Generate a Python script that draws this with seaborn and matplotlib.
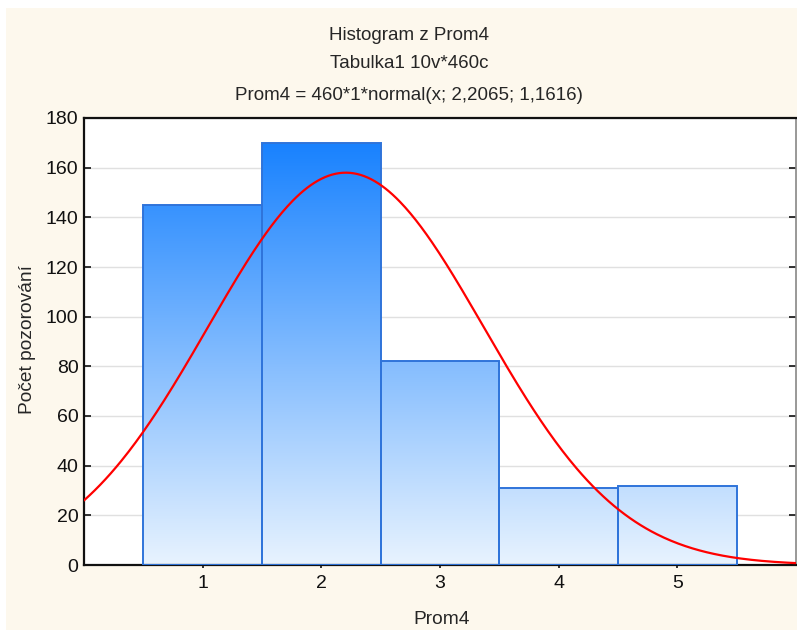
import numpy as np
import pandas as pd
import seaborn as sns
from matplotlib import pyplot as plt
from matplotlib.colors import LinearSegmentedColormap
from matplotlib.patches import Rectangle

# data
categories = [1, 2, 3, 4, 5]
counts = [145, 170, 82, 31, 32]
y_ticks = [0, 20, 40, 60, 80, 100, 120, 140, 160, 180]

# fitted normal curve parameters (from the chart title)
n_total = 460
mean_fit = 2.2065
sd_fit = 1.1616

sns.set_theme(style="white")
plt.rcParams['font.family'] = ['Liberation Sans', 'DejaVu Sans']

fig = plt.figure(figsize=(7.97, 6.3), dpi=100, facecolor='white')
fig.patches.append(Rectangle((6 / 797, 0), 1, (630 - 8) / 630, transform=fig.transFigure,
                             facecolor='#fdf8ed', edgecolor='none', zorder=-10))
ax = fig.add_axes([84 / 797, 65 / 630, 712 / 797, 447 / 630])
ax.set_facecolor('white')

df = pd.DataFrame({'Prom4': categories, 'n': counts})
sns.histplot(data=df, x='Prom4', weights='n', discrete=True, ax=ax,
             color='#7fb8fa', edgecolor='#2f74da', linewidth=1.4, alpha=1, zorder=2)

# vertical gradient fill in every bar
cmap = LinearSegmentedColormap.from_list('stat', ['#e8f3fe', '#0c7bff'])
grad = np.linspace(0, 1, 256).reshape(-1, 1)
for p in ax.patches:
    p.set_facecolor('none')
    p.set_zorder(3)
    im = ax.imshow(grad, extent=[0, 6, 0, 180], origin='lower', aspect='auto',
                   cmap=cmap, zorder=2)
    im.set_clip_path(p)

# normal curve
xs = np.linspace(0, 6, 400)
ys = n_total * 1 * np.exp(-0.5 * ((xs - mean_fit) / sd_fit) ** 2) / (sd_fit * np.sqrt(2 * np.pi))
sns.lineplot(x=xs, y=ys, ax=ax, color='#ff0000', linewidth=1.6, zorder=5)

ax.set_xlim(0, 6)
ax.set_ylim(0, 180)
ax.set_xticks(categories)
ax.set_yticks(y_ticks)
ax.yaxis.grid(True, color='#e0e0e0', linewidth=1, zorder=0)
ax.set_axisbelow(True)
ax.tick_params(axis='both', labelsize=14, colors='#111111', length=5, width=1.2,
               direction='inout', left=True, bottom=True)
ax.tick_params(axis='y', right=True, direction='in', pad=4)
ax.tick_params(axis='x', pad=5)
for side in ['left', 'bottom', 'top']:
    ax.spines[side].set_color('#111111')
    ax.spines[side].set_linewidth(1.6)
ax.spines['right'].set_color('#888888')
ax.spines['right'].set_linewidth(1.2)

ax.set_xlabel('')
ax.set_ylabel('')
fig.text(442 / 797, 1 - 620 / 630, 'Prom4', ha='center', va='center', fontsize=13.8)
fig.text(28 / 797, 1 - 340 / 630, 'Počet pozorování', ha='center', va='center',
         rotation=90, fontsize=13.8)

fig.text(409 / 797, 1 - 35 / 630, 'Histogram z Prom4', ha='center', va='center', fontsize=13.5)
fig.text(409 / 797, 1 - 64 / 630, 'Tabulka1 10v*460c', ha='center', va='center', fontsize=13.5)
fig.text(409 / 797, 1 - 95 / 630, 'Prom4 = 460*1*normal(x; 2,2065; 1,1616)', ha='center',
         va='center', fontsize=13.5)

plt.savefig('out.png', dpi=100, facecolor=fig.get_facecolor())
